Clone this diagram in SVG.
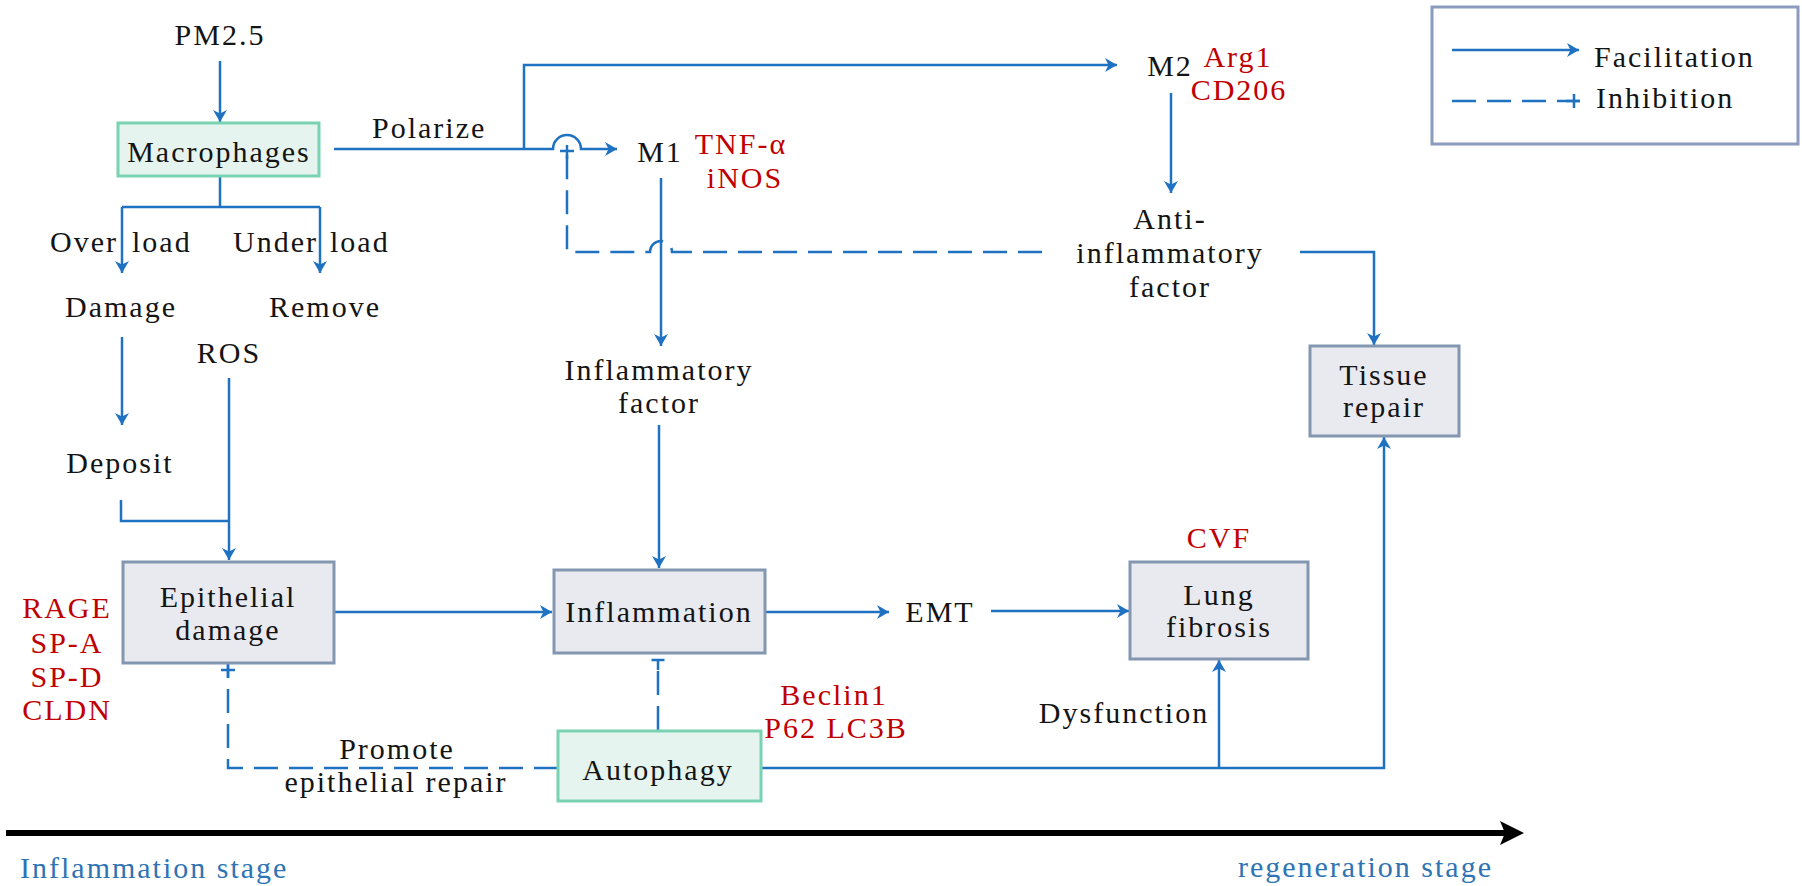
<svg xmlns="http://www.w3.org/2000/svg" width="1802" height="886" viewBox="0 0 1802 886">
<defs>
<marker id="ah" viewBox="0 0 12 14" refX="12" refY="7" markerWidth="12" markerHeight="14" markerUnits="userSpaceOnUse" orient="auto"><path d="M0,0 L12,7 L0,14 L3.5,7 Z" fill="#1f72c1"/></marker>
<marker id="plus" viewBox="-16 -8 18 16" refX="0" refY="0" markerWidth="18" markerHeight="16" markerUnits="userSpaceOnUse" orient="auto"><path d="M-14,0 H0 M-6,-7 V7" fill="none" stroke="#1f72c1" stroke-width="2.5"/></marker>
<marker id="tee" viewBox="-12 -8 14 16" refX="0" refY="0" markerWidth="14" markerHeight="16" markerUnits="userSpaceOnUse" orient="auto"><path d="M-10,0 H0 M0,-6.5 V6.5" fill="none" stroke="#1f72c1" stroke-width="2.5"/></marker>
</defs>
<style>
.t{font-family:"Liberation Serif","Times New Roman",serif;font-size:30px;fill:#141414;letter-spacing:2px}
.c{text-anchor:middle}
.r{fill:#c00000}
.b{fill:#2e74b5}
.ln{fill:none;stroke:#1f72c1;stroke-width:2.5}
.ar{marker-end:url(#ah)}
.ds{stroke-dasharray:24 11}
.gray{fill:#e8eaf0;stroke:#8497b0;stroke-width:3}
.green{fill:#e5f4ef;stroke:#79d3b2;stroke-width:3}
</style>
<rect width="1802" height="886" fill="#ffffff"/>

<g id="connectors">
<path class="ln ar" d="M220,61 V122"/>
<path class="ln" d="M220,176 V207 M122,207 H320"/>
<path class="ln ar" d="M122,207 V273"/>
<path class="ln ar" d="M320,207 V273"/>
<path class="ln ar" d="M122,337 V425"/>
<path class="ln" d="M121,500 V521 H229"/>
<path class="ln ar" d="M229,378 V560"/>
<path class="ln ar" d="M334,612 H552"/>
<path class="ln ar" d="M334,149 H553 A14,14 0 0 1 581,149 H617"/>
<path class="ln ar" d="M524,149 V65 H1117"/>
<path class="ln ar" d="M1171,93 V193"/>
<path class="ln ar" d="M661,178 V346"/>
<path class="ln ar" d="M659,425 V568"/>
<path class="ln ar" d="M765,612 H889"/>
<path class="ln ar" d="M991,611 H1129"/>
<path class="ln ar" d="M1300,252 H1374 V345"/>
<path class="ln ar" d="M761,768 H1384 V437"/>
<path class="ln ar" d="M1219,768 V660"/>
<path class="ln ds" d="M1042,252 H672 A11,11 0 0 0 650,252 H567 V145" style="marker-end:url(#plus)"/>
<path class="ln ds" d="M658,730 V660" style="marker-end:url(#tee)"/>
<path class="ln ds" d="M558,768 H228 V664" style="marker-end:url(#plus)"/>
</g>

<g id="timeline">
<path d="M6,833 H1506" stroke="#000" stroke-width="6" fill="none"/>
<path d="M1524,833 L1500,821 L1505,833 L1500,845 Z" fill="#000"/>
</g>

<g id="pm25"><text class="t c" x="220" y="45">PM2.5</text></g>
<g id="macrophages"><rect class="green" x="118" y="123" width="201" height="53"/><text class="t c" x="219" y="162">Macrophages</text></g>
<g id="polarize"><text class="t" x="372" y="138">Polarize</text></g>
<g id="overload"><text class="t"><tspan x="50" y="252">Over</tspan> <tspan x="132" y="252">load</tspan></text></g>
<g id="underload"><text class="t"><tspan x="233" y="252">Under</tspan> <tspan x="330" y="252">load</tspan></text></g>
<g id="damage"><text class="t c" x="121" y="317">Damage</text></g>
<g id="remove"><text class="t c" x="325" y="317">Remove</text></g>
<g id="ros"><text class="t c" x="229" y="363">ROS</text></g>
<g id="deposit"><text class="t c" x="120" y="473">Deposit</text></g>
<g id="m1"><text class="t c" x="660" y="162">M1</text><text class="t c r" x="741" y="154">TNF-α</text><text class="t c r" x="745" y="188">iNOS</text></g>
<g id="m2"><text class="t c" x="1170" y="76">M2</text><text class="t c r" x="1238" y="67">Arg1</text><text class="t c r" x="1239" y="100">CD206</text></g>
<g id="anti"><text class="t c" x="1170" y="229">Anti-</text><text class="t c" x="1170" y="263">inflammatory</text><text class="t c" x="1170" y="297">factor</text></g>
<g id="inflammatory-factor"><text class="t c" x="659" y="380">Inflammatory</text><text class="t c" x="659" y="413">factor</text></g>
<g id="tissue-repair"><rect class="gray" x="1310" y="346" width="149" height="90"/><text class="t c" x="1384" y="385">Tissue</text><text class="t c" x="1384" y="417">repair</text></g>
<g id="epithelial-damage"><rect class="gray" x="123" y="562" width="211" height="101"/><text class="t c" x="228" y="607">Epithelial</text><text class="t c" x="228" y="640">damage</text></g>
<g id="markers-epi"><text class="t c r" x="67" y="618">RAGE</text><text class="t c r" x="67" y="653">SP-A</text><text class="t c r" x="67" y="687">SP-D</text><text class="t c r" x="67" y="720">CLDN</text></g>
<g id="inflammation"><rect class="gray" x="554" y="570" width="211" height="83"/><text class="t c" x="659" y="622">Inflammation</text></g>
<g id="emt"><text class="t c" x="940" y="622">EMT</text></g>
<g id="lung-fibrosis"><rect class="gray" x="1130" y="562" width="178" height="97"/><text class="t c" x="1219" y="605">Lung</text><text class="t c" x="1219" y="637">fibrosis</text><text class="t c r" x="1219" y="548">CVF</text></g>
<g id="dysfunction"><text class="t c" x="1124" y="723">Dysfunction</text></g>
<g id="autophagy"><rect class="green" x="558" y="731" width="203" height="70"/><text class="t c" x="658" y="780">Autophagy</text><text class="t c r" x="834" y="705">Beclin1</text><text class="t c r" x="836" y="738">P62 LC3B</text></g>
<g id="promote"><text class="t c" x="397" y="759">Promote</text><text class="t c" x="396" y="792">epithelial repair</text></g>
<g id="stages"><text class="t b" x="20" y="878">Inflammation stage</text><text class="t b" x="1493" y="877" text-anchor="end">regeneration stage</text></g>
<g id="legend">
<rect x="1432" y="7" width="366" height="137" fill="#fff" stroke="#8a9bbd" stroke-width="3"/>
<path class="ln ar" d="M1452,50 H1579"/>
<text class="t" x="1594" y="67">Facilitation</text>
<path class="ln ds" d="M1452,101 H1580" style="marker-end:url(#plus)"/>
<text class="t" x="1596" y="108">Inhibition</text>
</g>
</svg>
